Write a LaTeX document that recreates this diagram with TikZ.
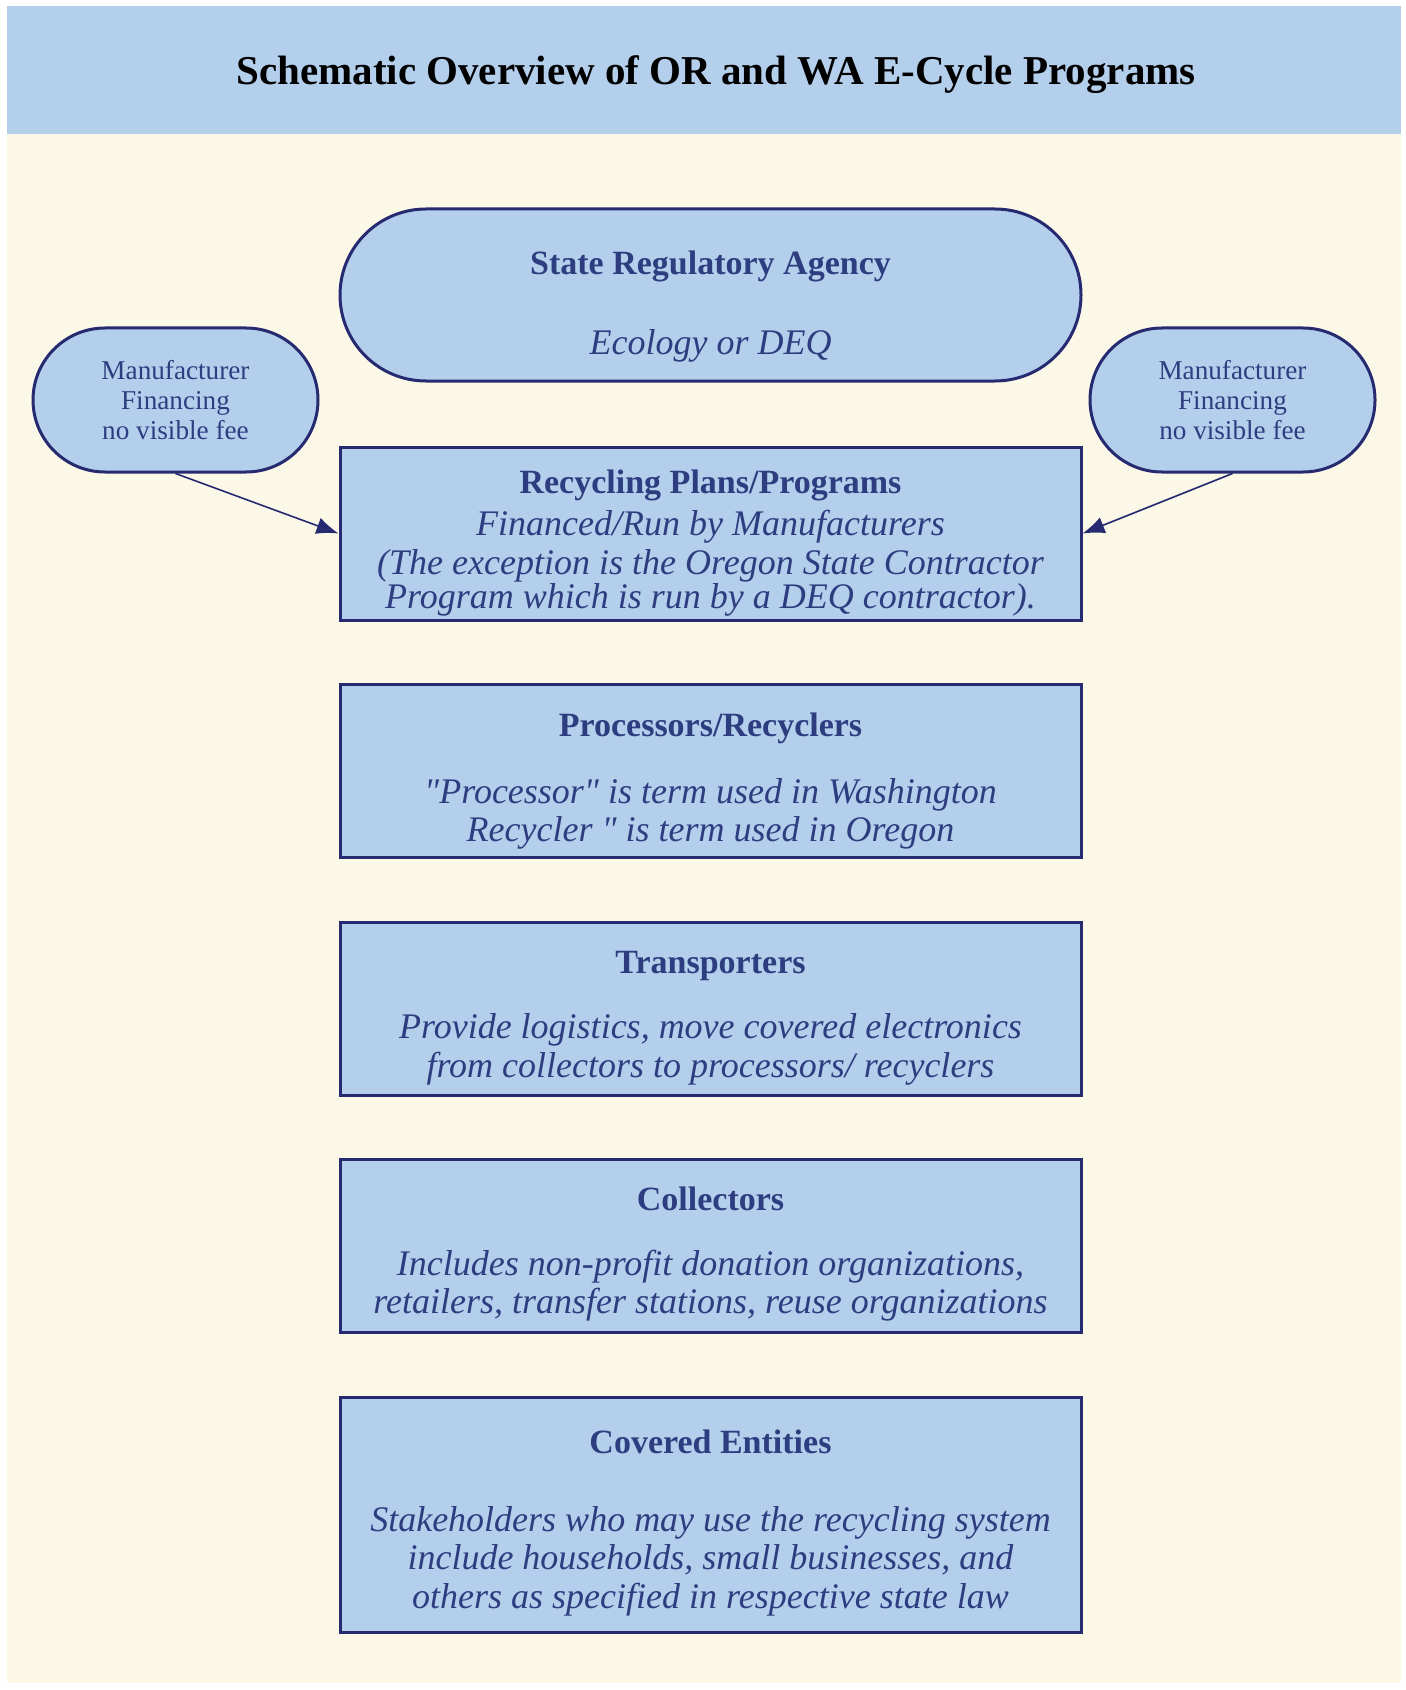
\documentclass[tikz,border=0pt]{standalone}
\usepackage{fontspec}
\setmainfont{Liberation Serif}[Ligatures=TeXOff]
\usepackage{xcolor}
\usetikzlibrary{positioning,arrows.meta}

\definecolor{paper}{HTML}{FCF8E8}
\definecolor{boxfill}{HTML}{B4CFEC}
\definecolor{edgeblue}{HTML}{262A70}
\definecolor{ink}{HTML}{2E3D80}

\tikzset{
  box/.style={draw=edgeblue, line width=1.5pt, fill=boxfill, inner sep=0pt,
              minimum width=370.5pt, minimum height=86.5pt},
  pill/.style={box, rounded corners=43pt},
  smallpill/.style={box, rounded corners=36pt, minimum width=142.5pt, minimum height=72pt},
  head/.style={text=ink, font=\bfseries\fontsize{17}{20}\selectfont, inner sep=0pt},
  body/.style={text=ink, font=\itshape\fontsize{18}{19.3}\selectfont, align=center, inner sep=0pt},
  note/.style={text=ink, font=\fontsize{13.6}{15}\selectfont, align=center, inner sep=0pt},
  link/.style={draw=edgeblue, line width=0.8pt, -{Latex[length=11pt,width=8.5pt]}}
}

\begin{document}
\begin{tikzpicture}[x=0.5pt, y=-0.5pt]
  % page and banner
  \useasboundingbox (0,0) rectangle (1406,1690);
  \fill[paper] (7,6) rectangle (1401,1683);
  \fill[boxfill] (7,6) rectangle (1401,134);
  \node[font=\bfseries\fontsize{20.5}{24}\selectfont] (title) at (716,75)
    {Schematic Overview of OR and WA E-Cycle Programs};

  % agency
  \node[pill, minimum height=86pt] (agency) at (710.5,295) {};
  \node[head] (agencyhd) at (710.5,266) {State Regulatory Agency};
  \node[body] (agencybd) at (710.5,346) {Ecology or DEQ};

  % financing notes
  \node[smallpill] (finl) at (175.5,400) {};
  \node[note] at (finl) {Manufacturer\\Financing\\no visible fee};
  \node[smallpill] (finr) at (1232.5,400) {};
  \node[note] at (finr) {Manufacturer\\Financing\\no visible fee};

  % plans
  \node[box] (plans) at (710.5,533.5) {};
  \node[head] (planshd) at (710.5,485) {Recycling Plans/Programs};
  \node[body] (plansbd) at (710.5,527) {Financed/Run by Manufacturers};
  \node[body, font=\itshape\fontsize{18}{14.5}\selectfont] (plansex) at (710.5,583)
    {(The exception is the Oregon State Contractor\\Program which is run by a DEQ contractor).};

  % processors
  \node[box] (proc) at (710.5,770.5) {};
  \node[head] (prochd) at (710.5,728) {Processors/Recyclers};
  \node[body] (procbd) at (710.5,814) {"Processor" is term used in Washington\\Recycler " is term used in Oregon};

  % transporters
  \node[box] (trans) at (710.5,1008.5) {};
  \node[head] (transhd) at (710.5,966) {Transporters};
  \node[body] (transbd) at (710.5,1049.5) {Provide logistics, move covered electronics\\from collectors to processors/ recyclers};

  % collectors
  \node[box] (coll) at (710.5,1245.5) {};
  \node[head] (collhd) at (710.5,1199) {Collectors};
  \node[body] (collbd) at (710.5,1285.5) {Includes non-profit donation organizations,\\retailers, transfer stations, reuse organizations};

  % covered entities
  \node[box, minimum height=117.5pt] (cov) at (710.5,1514.5) {};
  \node[head] (covhd) at (710.5,1442) {Covered Entities};
  \node[body] (covbd) at (710.5,1561) {Stakeholders who may use the recycling system\\include households, small businesses, and\\others as specified in respective state law};

  % financing arrows
  \draw[link] (finl.south) -- (plans.west);
  \draw[link] (finr.south) -- (plans.east);
\end{tikzpicture}
\end{document}
